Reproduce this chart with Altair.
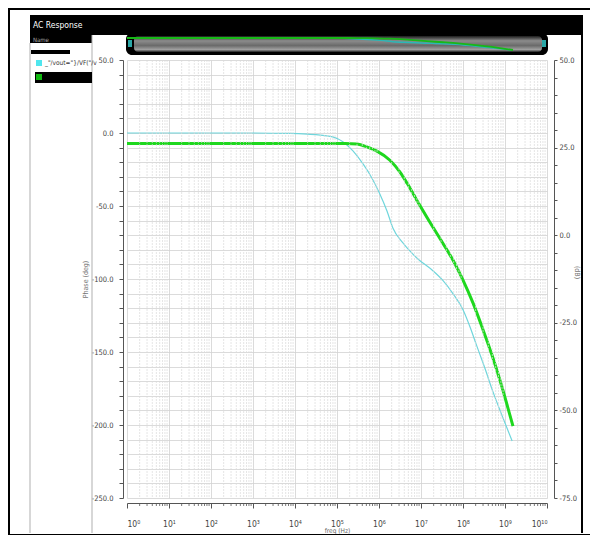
import altair as alt
import pandas as pd

# ---- data (log10 of frequency in Hz) ----
phase_logf = [0.0, 2.93, 3.88, 4.3, 4.6, 4.9, 5.14, 5.38, 5.62, 5.83, 6.02, 6.19, 6.33,
              6.57, 6.9, 7.29, 7.52, 7.76, 8.0, 8.17, 8.33, 8.52, 8.71, 8.95, 9.17]
phase_deg = [0.0, 0.0, -0.3, -0.8, -1.4, -2.7, -6.0, -12.3, -21.2, -30.8, -41.8, -53.4, -65.0,
             -75.3, -85.6, -94.5, -101.0, -110.0, -121.0, -133.0, -146.0, -161.0, -177.0, -195.0, -211.0]

mag_logf = [0.0, 4.0, 5.2, 5.48, 5.71, 5.95, 6.26, 6.5, 6.67, 6.9, 7.14, 7.52, 7.76,
            8.0, 8.24, 8.48, 8.69, 8.88, 9.19]
mag_db = [26.2, 26.2, 26.2, 26.0, 25.2, 24.0, 21.4, 18.0, 14.8, 10.0, 5.1, -2.3, -7.1,
          -12.8, -19.4, -27.1, -34.2, -41.4, -54.5]

decades = [10 ** d for d in range(0, 11)]
minor_f = [k * 10 ** d for d in range(0, 10) for k in range(2, 10)]
phase_ticks = list(range(-250, 51, 10))
db_ticks = list(range(-75, 51, 5))

legend_label = '_"/vout="}/VF("/v'

FONT = "DejaVu Sans Condensed, Liberation Sans Narrow, sans-serif"
CYAN = "#6fd6dc"
GREEN = "#1ed81e"

phase_df = pd.DataFrame({"f": [10 ** v for v in phase_logf], "deg": phase_deg})
mag_df = pd.DataFrame({"f": [10 ** v for v in mag_logf], "db": mag_db})
minor_df = pd.DataFrame({"f": minor_f})
one = pd.DataFrame({"k": [0]})

sup = "['\u2070','\u00b9','\u00b2','\u00b3','\u2074','\u2075','\u2076','\u2077','\u2078','\u2079','\u00b9\u2070']"

X = alt.X(
    "f:Q",
    scale=alt.Scale(type="log", domain=[1, 1e10], nice=False),
    axis=alt.Axis(
        values=decades,
        labelExpr="'10' + " + sup + "[round(log(datum.value)/LN10)]",
        offset=5, tickSize=5, tickColor="#555", domainColor="#555",
        labelColor="#444", labelFont=FONT, labelFontSize=8.5, labelPadding=11,
        grid=True, gridColor="#d2d2d2", gridWidth=0.8,
        title="freq (Hz)", titleFont=FONT, titleFontSize=6.5, titleFontWeight="normal",
        titleColor="#666", titlePadding=0,
    ),
)


def box(x, x2, y, y2, **kw):
    return alt.Chart(one).mark_rect(**kw).encode(
        x=alt.value(x), x2=alt.value(x2), y=alt.value(y), y2=alt.value(y2))


def label(x, y, s, **kw):
    return alt.Chart(one).mark_text(align="left", baseline="middle", font=FONT, **kw).encode(
        x=alt.value(x), y=alt.value(y), text=alt.value(s))


# ---- window decorations (positions relative to plot origin) ----
frame = box(-118, 470, -51, 475, fillOpacity=0, stroke="black", strokeWidth=2)
titlebar = box(-97, 456, -45, -25, color="black")
titlebar2 = box(-97, -35, -25, -17, color="black")
right_border = box(454, 456, -45, 473, color="black")
panel_l = box(-97.5, -96.5, -17, 473, color="#b0b0b0")
panel_r = box(-35.5, -34.5, -25, 473, color="#b0b0b0")
t_title = label(-94, -35, "AC Response", color="white", fontSize=8.5)
t_name = label(-94, -20, "Name", color="#aaaaaa", fontSize=6)
name_bar = box(-96, -57, -10, -6, color="black")
leg_hl = box(-92, -35, 12, 23, color="black")
leg_c = box(-91, -85, 0, 6, color="#4fe6ee")
leg_g = box(-91, -85, 14, 20, color="#10b810")
t_leg = label(-82, 3, legend_label, color="#333", fontSize=6.5)

# ---- minor grid and ticks ----
minor_grid = alt.Chart(minor_df).mark_rule(color="#dadada", strokeWidth=0.7, strokeDash=[2, 1]).encode(x=X)
minor_ticks = alt.Chart(minor_df).mark_rule(color="#555", strokeWidth=0.8).encode(
    x=X, y=alt.value(443), y2=alt.value(446))

# ---- main curves ----
phase_line = alt.Chart(phase_df).mark_line(color=CYAN, strokeWidth=1.2, interpolate="monotone").encode(
    x=X,
    y=alt.Y("deg:Q", scale=alt.Scale(domain=[-250, 50], nice=False, zero=False),
            axis=alt.Axis(
                orient="left", values=phase_ticks, offset=4, tickSize=4,
                labelExpr="datum.value % 50 == 0 ? replace(format(datum.value, '.1f'), '\u2212', '-') : ''",
                tickColor="#555", domainColor="#555", labelColor="#444", labelFont=FONT,
                labelFontSize=7.5, labelPadding=6, grid=True, gridColor="#d2d2d2", gridWidth=0.8,
                title="Phase (deg)", titleFont=FONT, titleFontSize=7, titleFontWeight="normal",
                titleColor="#777", titlePadding=3)),
)

mag_line = alt.Chart(mag_df).mark_line(color=GREEN, strokeWidth=3, interpolate="monotone").encode(
    x=X,
    y=alt.Y("db:Q", scale=alt.Scale(domain=[-75, 50], nice=False, zero=False),
            axis=alt.Axis(
                orient="right", values=db_ticks, offset=7, tickSize=3,
                labelExpr="datum.value % 25 == 0 ? replace(format(datum.value, '.1f'), '\u2212', '-') : ''",
                tickColor="#555", domainColor="#555", labelColor="#444", labelFont=FONT,
                labelFontSize=7.5, labelPadding=2, grid=False,
                title="(dB)", titleFont=FONT, titleFontSize=7, titleFontWeight="normal",
                titleColor="#777", titleX=22, titleY=212, titleAngle=90, titleBaseline="middle",
                titleAlign="center")),
)

# ---- overview strip ----
ov_outer = box(-1, 421, -27, -5, color="black", cornerRadius=6)
ov_grad = box(7, 415, -24, -8, cornerRadius=4, fill=alt.LinearGradient(
    gradient="linear", x1=0, x2=0, y1=0, y2=1,
    stops=[alt.GradientStop(color="#1c1c1c", offset=0),
           alt.GradientStop(color="#8c8c8c", offset=0.3),
           alt.GradientStop(color="#6a6a6a", offset=0.6),
           alt.GradientStop(color="#a0a0a0", offset=0.85),
           alt.GradientStop(color="#202020", offset=1)]))
ov_cap_l = box(1, 5, -20, -13, color="#2aa7a7")
ov_cap_r = box(415, 419, -20, -13, color="#2aa7a7")
ov_phase = alt.Chart(phase_df).mark_line(color="#2bb7b7", strokeWidth=1.5, interpolate="monotone").encode(
    x=X, y=alt.Y("deg:Q", scale=alt.Scale(zero=False, nice=False, range=[-10, -22]), axis=None))
ov_mag = alt.Chart(mag_df).mark_line(color="#17b817", strokeWidth=1.8, interpolate="monotone").encode(
    x=X, y=alt.Y("db:Q", scale=alt.Scale(zero=False, nice=False, range=[-10, -22]), axis=None))

chart = alt.layer(
    phase_line, mag_line,
    frame, titlebar, titlebar2, right_border, panel_l, panel_r, t_title, t_name, name_bar,
    leg_hl, leg_c, leg_g, t_leg,
    minor_grid, minor_ticks,
    ov_outer, ov_grad, ov_cap_l, ov_cap_r, ov_phase, ov_mag,
).resolve_scale(y="independent").properties(
    width=420, height=438,
    padding={"left": 119, "top": 52, "right": 43, "bottom": 37},
    autosize=alt.AutoSizeParams(type="none"),
    background="white",
).configure_view(stroke=None)

chart.save("out.html", embed_options={"renderer": "svg", "actions": False})
